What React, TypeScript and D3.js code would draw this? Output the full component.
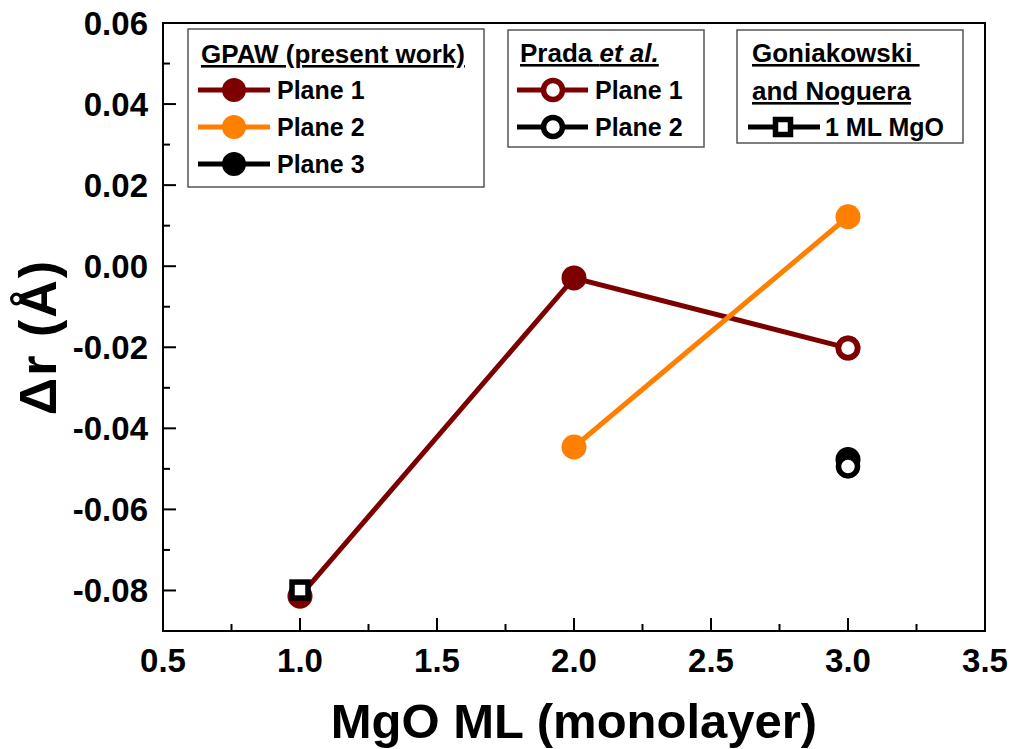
import React from "react";
import * as d3 from "d3";

// ---- data ----
const xTicks = [0.5, 1.0, 1.5, 2.0, 2.5, 3.0, 3.5];
const yTicks = [-0.08, -0.06, -0.04, -0.02, 0.0, 0.02, 0.04, 0.06];

const gpawPlane1X = [1, 2, 3];
const gpawPlane1Y = [-0.0814, -0.0029, -0.0202];
const gpawPlane2X = [2, 3];
const gpawPlane2Y = [-0.0446, 0.0122];
const gpawPlane3X = [3];
const gpawPlane3Y = [-0.0477];

const pradaPlane1X = [3];
const pradaPlane1Y = [-0.0202];
const pradaPlane2X = [3];
const pradaPlane2Y = [-0.0494];

const goniaX = [1];
const goniaY = [-0.0799];

const gpawLabels = ["Plane 1", "Plane 2", "Plane 3"];
const pradaLabels = ["Plane 1", "Plane 2"];
const goniaLabels = ["1 ML MgO"];

const DARKRED = "#7d0000";
const ORANGE = "#ff7f00";
const BLACK = "#000000";

const FONT = "'Liberation Sans', Arial, Helvetica, sans-serif";

export default function App() {
  const W = 1011, H = 749;
  const left = 163, right = 985, top = 23, bottom = 631;
  const x = d3.scaleLinear().domain([0.5, 3.5]).range([left, right]);
  const y = d3.scaleLinear().domain([-0.09, 0.06]).range([bottom, top]);

  const line = d3.line<[number, number]>().x(d => x(d[0])).y(d => y(d[1]));
  const zip = (xs: number[], ys: number[]) => xs.map((v, i) => [v, ys[i]] as [number, number]);

  const xMinor = d3.range(0.75, 3.5, 0.5);
  const yMinor = d3.range(-0.09, 0.06, 0.02).map(v => +v.toFixed(3));

  const lw = 5;
  const rFilled = 12.5;
  const rOpen = 9.5;
  const openSW = 5.5;

  const filled = (xs: number[], ys: number[], c: string) =>
    zip(xs, ys).map((p, i) => (
      <circle key={i} cx={x(p[0])} cy={y(p[1])} r={rFilled} fill={c} />
    ));
  const open = (xs: number[], ys: number[], c: string) =>
    zip(xs, ys).map((p, i) => (
      <circle key={i} cx={x(p[0])} cy={y(p[1])} r={rOpen} fill="#fff" stroke={c} strokeWidth={openSW} />
    ));

  const sq = 16;
  const tickFont = 33;

  return (
    <svg width={W} height={H} style={{ position: "absolute", left: 0, top: 0, background: "#fff" }} fontFamily={FONT}>
      <rect x={0} y={0} width={W} height={H} fill="#fff" />
      {/* series */}
      <path d={line(zip(gpawPlane1X, gpawPlane1Y)) || ""} fill="none" stroke={DARKRED} strokeWidth={lw} />
      {filled(gpawPlane1X, gpawPlane1Y, DARKRED)}
      <path d={line(zip(gpawPlane2X, gpawPlane2Y)) || ""} fill="none" stroke={ORANGE} strokeWidth={lw} />
      {filled(gpawPlane2X, gpawPlane2Y, ORANGE)}
      {filled(gpawPlane3X, gpawPlane3Y, BLACK)}
      {open(pradaPlane1X, pradaPlane1Y, DARKRED)}
      {open(pradaPlane2X, pradaPlane2Y, BLACK)}
      {zip(goniaX, goniaY).map((p, i) => (
        <rect key={i} x={x(p[0]) - sq / 2} y={y(p[1]) - sq / 2} width={sq} height={sq} fill="#fff" stroke={BLACK} strokeWidth={openSW} />
      ))}

      {/* frame */}
      <rect x={left} y={top} width={right - left} height={bottom - top} fill="none" stroke="#000" strokeWidth={2} />

      {/* x ticks */}
      {xTicks.map(t => (
        <g key={"xt" + t}>
          <line x1={x(t)} x2={x(t)} y1={bottom} y2={bottom - 13} stroke="#000" strokeWidth={2} />
          <text x={x(t)} y={672} textAnchor="middle" fontSize={tickFont} fontWeight="bold">{t.toFixed(1)}</text>
        </g>
      ))}
      {xMinor.map(t => (
        <line key={"xm" + t} x1={x(t)} x2={x(t)} y1={bottom} y2={bottom - 7} stroke="#000" strokeWidth={2} />
      ))}
      {/* y ticks */}
      {yTicks.map(t => (
        <g key={"yt" + t}>
          <line x1={left} x2={left + 13} y1={y(t)} y2={y(t)} stroke="#000" strokeWidth={2} />
          <text x={148} y={y(t)} dy="0.36em" textAnchor="end" fontSize={tickFont} fontWeight="bold">{t.toFixed(2)}</text>
        </g>
      ))}
      {yMinor.map(t => (
        <line key={"ym" + t} x1={left} x2={left + 7} y1={y(t)} y2={y(t)} stroke="#000" strokeWidth={2} />
      ))}

      {/* axis titles */}
      <text x={574} y={738} textAnchor="middle" fontSize={49} fontWeight="bold">MgO ML (monolayer)</text>
      <text transform={`translate(56,337) rotate(-90)`} textAnchor="middle" fontSize={52} fontWeight="bold" letterSpacing={2}>Δr (Å)</text>

      {/* legend 1 */}
      <rect x={188} y={29} width={296} height={158} fill="#fff" stroke="#555" strokeWidth={1.5} />
      <text x={201} y={63} fontSize={26} fontWeight="bold" textDecoration="underline">GPAW (present work)</text>
      {gpawLabels.map((lab, i) => {
        const cy = 90 + i * 37;
        const c = [DARKRED, ORANGE, BLACK][i];
        return (
          <g key={"g" + i}>
            <line x1={198} x2={270} y1={cy} y2={cy} stroke={c} strokeWidth={lw} />
            <circle cx={234} cy={cy} r={12} fill={c} />
            <text x={277} y={cy} dy="0.36em" fontSize={25} fontWeight="bold">{lab}</text>
          </g>
        );
      })}

      {/* legend 2 */}
      <rect x={508} y={30} width={196} height={117} fill="#fff" stroke="#555" strokeWidth={1.5} />
      <text x={520} y={62} fontSize={26} fontWeight="bold" textDecoration="underline">
        Prada <tspan fontStyle="italic">et al.</tspan>
      </text>
      {pradaLabels.map((lab, i) => {
        const cy = 90 + i * 37;
        const c = [DARKRED, BLACK][i];
        return (
          <g key={"p" + i}>
            <line x1={517} x2={588} y1={cy} y2={cy} stroke={c} strokeWidth={lw} />
            <circle cx={553} cy={cy} r={rOpen} fill="#fff" stroke={c} strokeWidth={openSW} />
            <text x={595} y={cy} dy="0.36em" fontSize={25} fontWeight="bold">{lab}</text>
          </g>
        );
      })}

      {/* legend 3 */}
      <rect x={737} y={30} width={226} height={113} fill="#fff" stroke="#555" strokeWidth={1.5} />
      <text x={752} y={62} fontSize={26} fontWeight="bold" textDecoration="underline" style={{ whiteSpace: "pre" }}>{"Goniakowski "}</text>
      <text x={752} y={100} fontSize={26} fontWeight="bold" textDecoration="underline">and Noguera</text>
      {goniaLabels.map((lab, i) => {
        const cy = 127;
        return (
          <g key={"n" + i}>
            <line x1={748} x2={820} y1={cy} y2={cy} stroke={BLACK} strokeWidth={lw} />
            <rect x={783 - 7.5} y={cy - 7.5} width={15} height={15} fill="#fff" stroke={BLACK} strokeWidth={openSW} />
            <text x={825} y={cy} dy="0.36em" fontSize={25} fontWeight="bold">{lab}</text>
          </g>
        );
      })}
    </svg>
  );
}
